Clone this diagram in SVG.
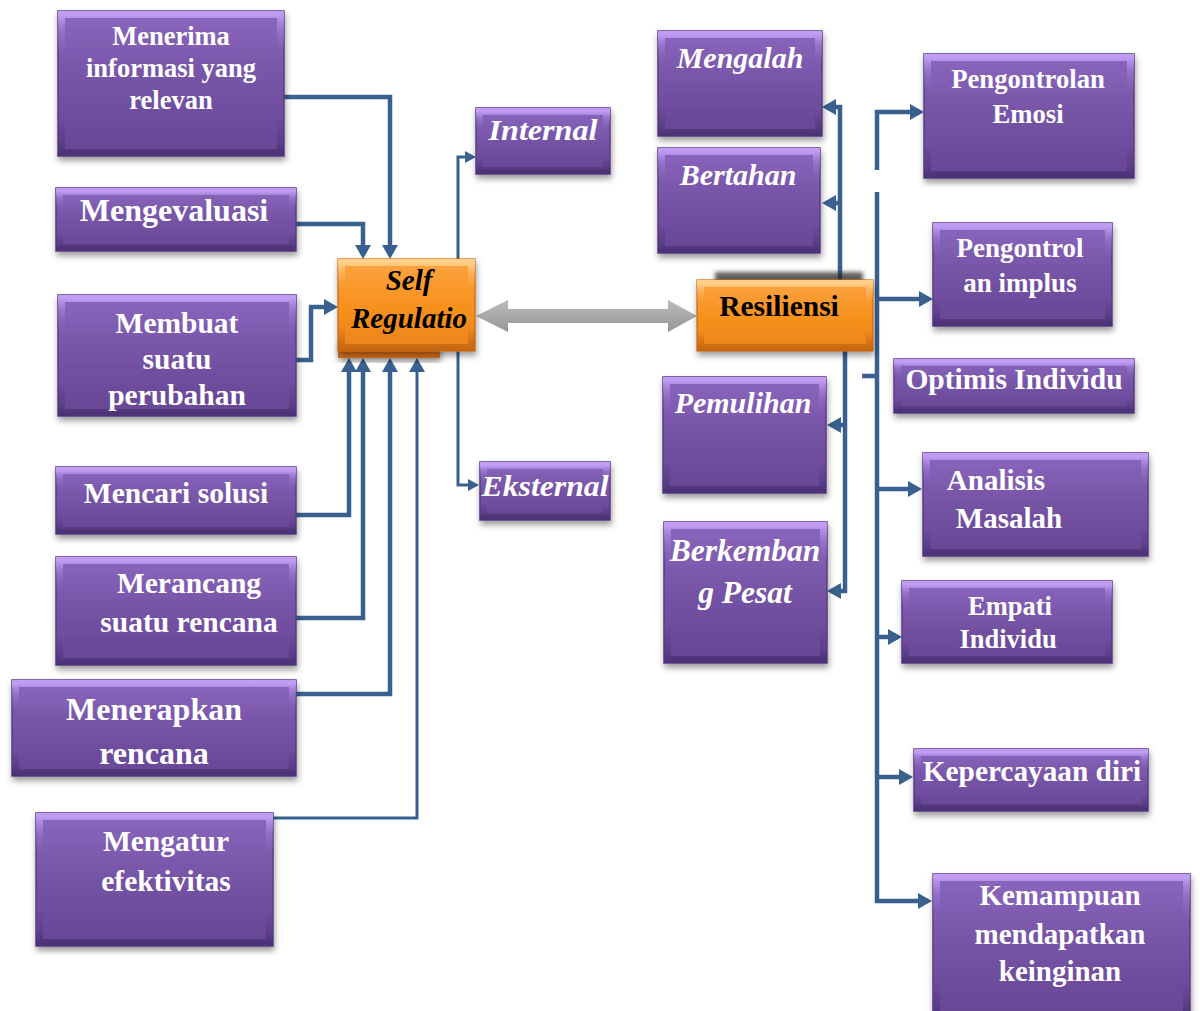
<svg xmlns="http://www.w3.org/2000/svg" width="1200" height="1011" viewBox="0 0 1200 1011">
<defs>
<linearGradient id="pg" x1="0" y1="0" x2="0" y2="1">
<stop offset="0" stop-color="#8B67BE"/>
<stop offset="0.5" stop-color="#7553A5"/>
<stop offset="1" stop-color="#664694"/>
</linearGradient>
<linearGradient id="pb" x1="0" y1="0" x2="0" y2="1">
<stop offset="0" stop-color="#C09DF2" stop-opacity="1"/>
<stop offset="0.12" stop-color="#A684DA" stop-opacity="0.5"/>
<stop offset="0.3" stop-color="#8B67BE" stop-opacity="0"/>
<stop offset="0.75" stop-color="#4E327A" stop-opacity="0"/>
<stop offset="0.92" stop-color="#4E327A" stop-opacity="0.45"/>
<stop offset="1" stop-color="#482E72" stop-opacity="0.8"/>
</linearGradient>
<linearGradient id="og" x1="0" y1="0" x2="0" y2="1">
<stop offset="0" stop-color="#FCA443"/>
<stop offset="0.5" stop-color="#F7921F"/>
<stop offset="1" stop-color="#EC821A"/>
</linearGradient>
<linearGradient id="ob" x1="0" y1="0" x2="0" y2="1">
<stop offset="0" stop-color="#FFD08A" stop-opacity="1"/>
<stop offset="0.15" stop-color="#FFC070" stop-opacity="0.4"/>
<stop offset="0.3" stop-color="#FFC070" stop-opacity="0"/>
<stop offset="0.75" stop-color="#B85E0E" stop-opacity="0"/>
<stop offset="1" stop-color="#B85E0E" stop-opacity="0.7"/>
</linearGradient>
<linearGradient id="gg" x1="0" y1="0" x2="0" y2="1">
<stop offset="0" stop-color="#BDBDBD"/>
<stop offset="1" stop-color="#959595"/>
</linearGradient>
<filter id="sh" x="-10%" y="-10%" width="125%" height="135%">
<feDropShadow dx="1" dy="4" stdDeviation="3" flood-color="#000" flood-opacity="0.4"/>
</filter>
<filter id="bl" x="-10%" y="-50%" width="120%" height="200%">
<feGaussianBlur stdDeviation="2"/>
</filter>
<marker id="ah" markerUnits="userSpaceOnUse" markerWidth="14" markerHeight="16" viewBox="0 0 14 16" refX="10" refY="8" orient="auto">
<path d="M0,0 L14,8 L0,16 z" fill="#39608F"/>
</marker>
<marker id="as" markerUnits="userSpaceOnUse" markerWidth="11" markerHeight="12" viewBox="0 0 11 12" refX="8" refY="6" orient="auto">
<path d="M0,0 L11,6 L0,12 z" fill="#39608F"/>
</marker>
<style>
.p{fill:url(#pg);stroke:#5A3C84;stroke-width:1.5;filter:url(#sh)}
.pb{fill:none;stroke:url(#pb);stroke-width:7}
.o{fill:url(#og);stroke:#C8690F;stroke-width:1.2;filter:url(#sh)}
.ob{fill:none;stroke:url(#ob);stroke-width:7}
.t{font-family:"Liberation Serif","Times New Roman",serif;font-weight:bold;fill:#fff;text-anchor:middle}
.ti{font-family:"Liberation Serif","Times New Roman",serif;font-weight:bold;font-style:italic;fill:#fff;text-anchor:middle}
.k{fill:#000}
.c{fill:none;stroke:#39608F;stroke-width:4.5}
.cs{fill:none;stroke:#39608F;stroke-width:3}
</style>
</defs>
<rect width="1200" height="1011" fill="#fff"/>

<g id="connectors">
<path class="c" d="M284,97 H390 V255" marker-end="url(#ah)"/>
<path class="c" d="M296,224 H363 V255" marker-end="url(#ah)"/>
<path class="c" d="M296,360 H311 V307 H334" marker-end="url(#ah)"/>
<path class="c" d="M296,515 H349 V362" marker-end="url(#ah)"/>
<path class="c" d="M296,618 H363 V362" marker-end="url(#ah)"/>
<path class="c" d="M287,694 H390 V362" marker-end="url(#ah)"/>
<path class="cs" d="M273,818 H417 V362" marker-end="url(#ah)"/>
<path class="cs" d="M458,300 V157 H473" marker-end="url(#as)"/>
<path class="cs" d="M458,300 V485 H476" marker-end="url(#as)"/>
<polygon points="476,316 508,300 508,309 668,309 668,300 697,316 668,332 668,323 508,323 508,332" fill="url(#gg)"/>
<path class="c" d="M840,282 V107 H826" marker-end="url(#ah)"/>
<path class="c" d="M840,203 H826" marker-end="url(#ah)"/>
<path class="c" d="M845,349 V591 H831" marker-end="url(#ah)"/>
<path class="c" d="M845,425 H831" marker-end="url(#ah)"/>
<path class="c" d="M877,170 V112 H920" marker-end="url(#ah)"/>
<path class="c" d="M877,192 V901 H928" marker-end="url(#ah)"/>
<path class="c" d="M877,299 H929" marker-end="url(#ah)"/>
<path class="c" d="M862,376 H877"/>
<path class="c" d="M877,489 H918" marker-end="url(#ah)"/>
<path class="c" d="M877,637 H898" marker-end="url(#ah)"/>
<path class="c" d="M877,777 H909" marker-end="url(#ah)"/>
</g>

<g id="n-menerima">
<rect class="p" x="58" y="11" width="226" height="145"/>
<rect class="pb" x="61.5" y="14.5" width="219" height="138"/>
<text class="t" font-size="26.5" x="171" y="45">Menerima</text>
<text class="t" font-size="26.5" x="171" y="77">informasi yang</text>
<text class="t" font-size="26.5" x="171" y="109">relevan</text>
</g>
<g id="n-mengevaluasi">
<rect class="p" x="56" y="188" width="240" height="63"/>
<rect class="pb" x="59.5" y="191.5" width="233" height="56"/>
<text class="t" font-size="32" x="174" y="221">Mengevaluasi</text>
</g>
<g id="n-membuat">
<rect class="p" x="58" y="295" width="238" height="121"/>
<rect class="pb" x="61.5" y="298.5" width="231" height="114"/>
<text class="t" font-size="29.5" x="177" y="333">Membuat</text>
<text class="t" font-size="29.5" x="177" y="369">suatu</text>
<text class="t" font-size="29.5" x="177" y="405">perubahan</text>
</g>
<g id="n-mencari">
<rect class="p" x="56" y="467" width="240" height="67"/>
<rect class="pb" x="59.5" y="470.5" width="233" height="60"/>
<text class="t" font-size="29.5" x="176" y="503">Mencari solusi</text>
</g>
<g id="n-merancang">
<rect class="p" x="56" y="557" width="240" height="108"/>
<rect class="pb" x="59.5" y="560.5" width="233" height="101"/>
<text class="t" font-size="29.5" x="189" y="593">Merancang</text>
<text class="t" font-size="29.5" x="189" y="632">suatu rencana</text>
</g>
<g id="n-menerapkan">
<rect class="p" x="12" y="680" width="284" height="96"/>
<rect class="pb" x="15.5" y="683.5" width="277" height="89"/>
<text class="t" font-size="32" x="154" y="720">Menerapkan</text>
<text class="t" font-size="32" x="154" y="764">rencana</text>
</g>
<g id="n-mengatur">
<rect class="p" x="36" y="813" width="237" height="133"/>
<rect class="pb" x="39.5" y="816.5" width="230" height="126"/>
<text class="t" font-size="29.5" x="166" y="851">Mengatur</text>
<text class="t" font-size="29.5" x="166" y="891">efektivitas</text>
</g>

<g id="n-self-regulatio">
<rect x="338" y="340" width="102" height="18" fill="#D9701A" filter="url(#sh)"/>
<rect class="o" x="338" y="259" width="137" height="92"/>
<rect class="ob" x="341.5" y="262.5" width="130" height="85"/>
<text class="ti k" font-size="29" x="409" y="290">Self</text>
<text class="ti k" font-size="29" x="409" y="328">Regulatio</text>
</g>
<g id="n-internal">
<rect class="p" x="476" y="108" width="134" height="66"/>
<rect class="pb" x="479.5" y="111.5" width="127" height="59"/>
<text class="ti" font-size="29" x="543" y="140" textLength="109" lengthAdjust="spacingAndGlyphs">Internal</text>
</g>
<g id="n-eksternal">
<rect class="p" x="480" y="462" width="130" height="58"/>
<rect class="pb" x="483.5" y="465.5" width="123" height="51"/>
<text class="ti" font-size="29" x="545" y="496" textLength="127" lengthAdjust="spacingAndGlyphs">Eksternal</text>
</g>

<g id="n-resiliensi">
<rect x="715" y="272" width="148" height="12" fill="#2a2a2a" opacity="0.75" filter="url(#bl)"/>
<rect class="o" x="697" y="280" width="176" height="71"/>
<rect class="ob" x="700.5" y="283.5" width="169" height="64"/>
<text class="t k" font-size="29.5" x="779" y="316">Resiliensi</text>
</g>

<g id="n-mengalah">
<rect class="p" x="658" y="31" width="164" height="105"/>
<rect class="pb" x="661.5" y="34.5" width="157" height="98"/>
<text class="ti" font-size="30" x="740" y="68">Mengalah</text>
</g>
<g id="n-bertahan">
<rect class="p" x="658" y="148" width="162" height="105"/>
<rect class="pb" x="661.5" y="151.5" width="155" height="98"/>
<text class="ti" font-size="30" x="738" y="185">Bertahan</text>
</g>
<g id="n-pemulihan">
<rect class="p" x="663" y="377" width="163" height="116"/>
<rect class="pb" x="666.5" y="380.5" width="156" height="109"/>
<text class="ti" font-size="30" x="743" y="413">Pemulihan</text>
</g>
<g id="n-berkembang">
<rect class="p" x="664" y="522" width="163" height="141"/>
<rect class="pb" x="667.5" y="525.5" width="156" height="134"/>
<text class="ti" font-size="31.5" x="745" y="561">Berkemban</text>
<text class="ti" font-size="31.5" x="745" y="603">g Pesat</text>
</g>

<g id="n-pengontrolan-emosi">
<rect class="p" x="924" y="54" width="210" height="124"/>
<rect class="pb" x="927.5" y="57.5" width="203" height="117"/>
<text class="t" font-size="26.7" x="1028" y="88">Pengontrolan</text>
<text class="t" font-size="26.7" x="1028" y="123">Emosi</text>
</g>
<g id="n-pengontrol-implus">
<rect class="p" x="933" y="223" width="179" height="103"/>
<rect class="pb" x="936.5" y="226.5" width="172" height="96"/>
<text class="t" font-size="27" x="1020" y="257">Pengontrol</text>
<text class="t" font-size="27" x="1020" y="292">an implus</text>
</g>
<g id="n-optimis">
<rect class="p" x="894" y="359" width="240" height="54"/>
<rect class="pb" x="897.5" y="362.5" width="233" height="47"/>
<text class="t" font-size="29.5" x="1014" y="389">Optimis Individu</text>
</g>
<g id="n-analisis">
<rect class="p" x="923" y="453" width="225" height="103"/>
<rect class="pb" x="926.5" y="456.5" width="218" height="96"/>
<text class="t" font-size="29" x="996" y="490">Analisis</text>
<text class="t" font-size="29" x="1009" y="528">Masalah</text>
</g>
<g id="n-empati">
<rect class="p" x="902" y="581" width="210" height="82"/>
<rect class="pb" x="905.5" y="584.5" width="203" height="75"/>
<text class="t" font-size="26.5" x="1010" y="615">Empati</text>
<text class="t" font-size="26.5" x="1008" y="648">Individu</text>
</g>
<g id="n-kepercayaan">
<rect class="p" x="914" y="749" width="234" height="62"/>
<rect class="pb" x="917.5" y="752.5" width="227" height="55"/>
<text class="t" font-size="29.3" x="1032" y="781">Kepercayaan diri</text>
</g>
<g id="n-kemampuan">
<rect class="p" x="933" y="874" width="257" height="145"/>
<rect class="pb" x="936.5" y="877.5" width="250" height="138"/>
<text class="t" font-size="29" x="1060" y="905">Kemampuan</text>
<text class="t" font-size="29" x="1060" y="944">mendapatkan</text>
<text class="t" font-size="29" x="1060" y="981">keinginan</text>
</g>
</svg>
